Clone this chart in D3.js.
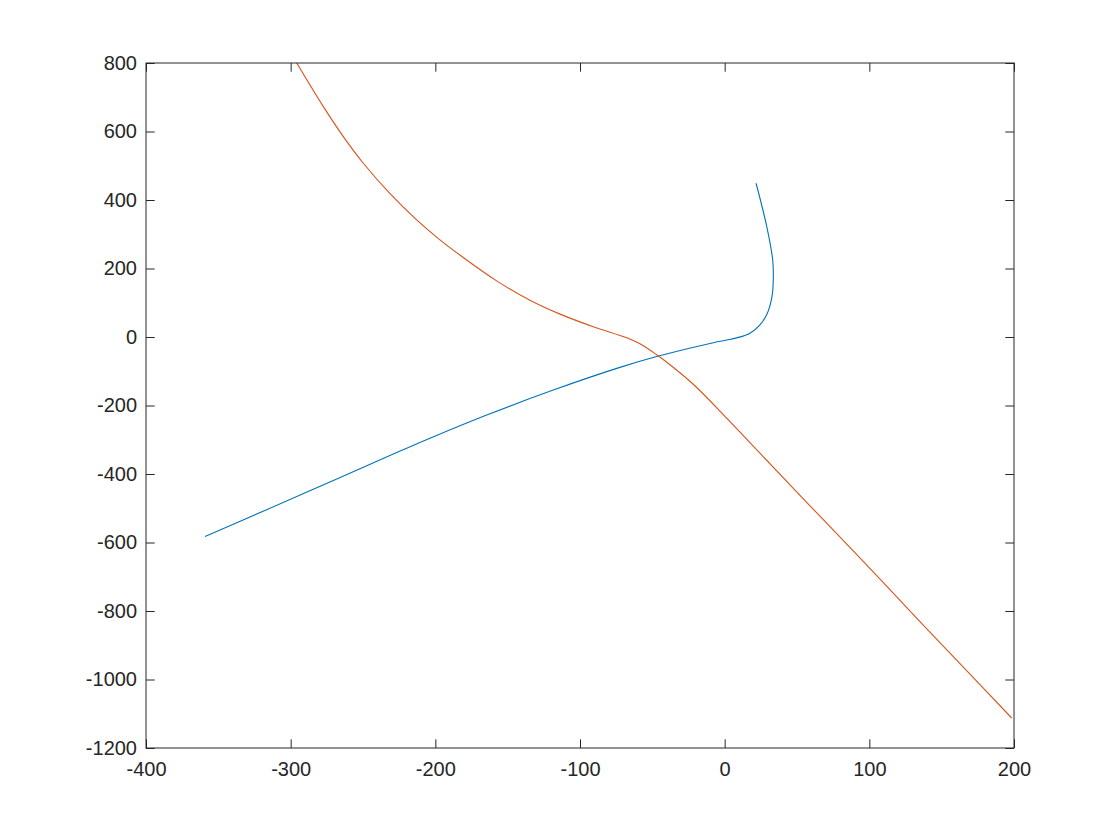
<!DOCTYPE html>
<html>
<head>
<meta charset="utf-8">
<script src="https://cdn.jsdelivr.net/npm/d3@7"></script>
<style>
  html, body { margin: 0; padding: 0; background: #fff; }
  svg { display: block; }
</style>
</head>
<body>
<script>
// Data
const blueX = [-359.2, -316.6, -270.5, -224.4, -203.7, -164.5, -118.5, -72.4, -47.0, -7.9, 1.4, 8.3, 17.5, 24.4, 29.5, 32.7, 33.6, 33.2, 29.1, 21.7];
const blueY = [-582.5, -504.2, -418.7, -333.2, -295.6, -227.9, -154.9, -88.7, -57.1, -16.6, -9.0, -2.6, 11.1, 35.4, 69.5, 118.0, 166.7, 225.0, 322.3, 448.9];
const orangeX = [-295.8, -277.4, -263.6, -249.8, -231.3, -212.9, -196.8, -180.7, -157.6, -134.6, -113.8, -90.8, -67.7, -58.5, -47.0, -37.8, -21.7, 1.4, 24.4, 59.0, 93.5, 132.7, 159.2, 198.4];
const orangeY = [800.0, 672.5, 584.9, 507.3, 418.6, 342.1, 283.7, 232.1, 163.8, 107.4, 66.8, 30.0, -2.3, -20.0, -52.0, -81.0, -138.0, -236.9, -339.4, -492.9, -644.6, -820.9, -938.5, -1112.4];
const xTicks = [-400, -300, -200, -100, 0, 100, 200];
const yTicks = [800, 600, 400, 200, 0, -200, -400, -600, -800, -1000, -1200];

(function () {
const W = 1120, H = 840;
const mLeft = 146, mRight = 1014, mTop = 63, mBottom = 748;
const tickLen = 8.7;
const axisColor = "#262626";
const font = "'Liberation Sans', Arial, Helvetica, sans-serif";

const svg = d3.select("body").append("svg").attr("width", W).attr("height", H);

const x = d3.scaleLinear().domain([-400, 200]).range([mLeft, mRight]);
const y = d3.scaleLinear().domain([-1200, 800]).range([mBottom, mTop]);

const line = d3.line().x(d => x(d[0])).y(d => y(d[1])).curve(d3.curveCatmullRom.alpha(0.5));
svg.append("clipPath").attr("id", "clip").append("rect")
  .attr("x", mLeft).attr("y", mTop).attr("width", mRight - mLeft).attr("height", mBottom - mTop);

const plot = svg.append("g").attr("clip-path", "url(#clip)");
plot.append("path").datum(d3.zip(blueX, blueY)).attr("d", line)
  .attr("fill", "none").attr("stroke", "#0072BD").attr("stroke-width", 1.1);
plot.append("path").datum(d3.zip(orangeX, orangeY)).attr("d", line)
  .attr("fill", "none").attr("stroke", "#D95319").attr("stroke-width", 1.1);

const fmt = d => String(d);
const bottomAxis = d3.axisBottom(x).tickValues(xTicks).tickSizeInner(-tickLen).tickSizeOuter(0).tickPadding(13.5).tickFormat(fmt);
const leftAxis = d3.axisLeft(y).tickValues(yTicks).tickSizeInner(-tickLen).tickSizeOuter(0).tickPadding(9).tickFormat(fmt);
const topAxis = d3.axisTop(x).tickValues(xTicks).tickSizeInner(-tickLen).tickSizeOuter(0).tickFormat("");
const rightAxis = d3.axisRight(y).tickValues(yTicks).tickSizeInner(-tickLen).tickSizeOuter(0).tickFormat("");

function style(g) {
  g.selectAll("path.domain").remove();
  g.selectAll(".tick line").attr("stroke", axisColor).attr("stroke-width", 1);
  g.selectAll(".tick text").attr("fill", axisColor).attr("font-family", font).attr("font-size", 20);
}

const gb = svg.append("g").attr("transform", `translate(0,${mBottom})`).call(bottomAxis);
const gl = svg.append("g").attr("transform", `translate(${mLeft},0)`).call(leftAxis);
const gt = svg.append("g").attr("transform", `translate(0,${mTop})`).call(topAxis);
const gr = svg.append("g").attr("transform", `translate(${mRight},0)`).call(rightAxis);
[gb, gl, gt, gr].forEach(style);

svg.append("rect").attr("x", mLeft).attr("y", mTop).attr("width", mRight - mLeft).attr("height", mBottom - mTop)
  .attr("fill", "none").attr("stroke", axisColor).attr("stroke-width", 1);
})();
</script>
</body>
</html>
